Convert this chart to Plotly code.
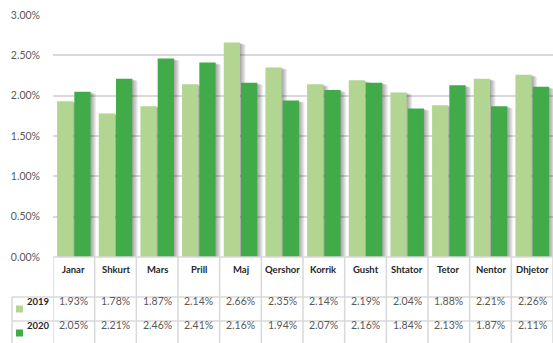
import plotly.graph_objects as go

# Monthly rates, 2019 vs 2020
months = ["Janar", "Shkurt", "Mars", "Prill", "Maj", "Qershor",
          "Korrik", "Gusht", "Shtator", "Tetor", "Nentor", "Dhjetor"]
rate_2019 = [1.93, 1.78, 1.87, 2.14, 2.66, 2.35, 2.14, 2.19, 2.04, 1.88, 2.21, 2.26]
rate_2020 = [2.05, 2.21, 2.46, 2.41, 2.16, 1.94, 2.07, 2.16, 1.84, 2.13, 1.87, 2.11]
series_names = ["2019", "2020"]
y_ticks = [0, 0.5, 1.0, 1.5, 2.0, 2.5, 3.0]

LIGHT = "#b2d692"
DARK = "#40ab48"
GRID = "#d9d9d9"
TEXT = "#595959"
FONT = "Lato"

W, H = 553, 343
L, R, T, B = 53, 0, 15, 86
n = len(months)
x_idx = list(range(n))
px_per_cat = (W - L - R) / n

bar_w = 0.39
gap = 0.012
offsets = [-bar_w - gap, gap]
colors = [LIGHT, DARK]
values = [rate_2019, rate_2020]

fig = go.Figure()

# soft drop shadows to the right of each bar
for k in range(2):
    for s in range(1, 6):
        shift = s * 1.1 / px_per_cat
        fig.add_trace(go.Bar(
            x=x_idx, y=[v - 0.005 * s for v in values[k]],
            offset=offsets[k] + shift, width=bar_w,
            marker=dict(color="rgba(0,0,0,0.075)", line=dict(width=0)),
            hoverinfo="skip", showlegend=False,
        ))

for k in range(2):
    fig.add_trace(go.Bar(
        x=x_idx, y=values[k], name=series_names[k],
        offset=offsets[k], width=bar_w,
        marker=dict(color=colors[k], line=dict(width=0)),
        showlegend=False,
    ))

fig.update_layout(
    width=W, height=H,
    margin=dict(l=L, r=R, t=T, b=B),
    paper_bgcolor="white", plot_bgcolor="white",
    barmode="overlay",
    font=dict(family=FONT, color=TEXT),
    xaxis=dict(range=[-0.5, n - 0.5], showticklabels=False, showgrid=False,
               zeroline=False, fixedrange=True),
    yaxis=dict(range=[0, 3.0], tickvals=y_ticks,
               ticktext=[f"{v:.2f}%" for v in y_ticks],
               showgrid=True, gridcolor=GRID, gridwidth=1.5,
               zeroline=False, tickfont=dict(size=10.5, color=TEXT, family=FONT),
               ticklabelstandoff=12),
)

# data table below the plot
row_h_px = [40, 24, 24]
px_to_paper = 1 / (H - T - B)
y_top = 0.0
y_hdr_bot = -row_h_px[0] * px_to_paper
y_r1_bot = y_hdr_bot - row_h_px[1] * px_to_paper
y_r2_bot = y_r1_bot - row_h_px[2] * px_to_paper
line = dict(color=GRID, width=1.5)

# horizontal rules
fig.add_shape(type="line", xref="x", yref="paper", x0=-0.5, x1=n - 0.5,
              y0=y_top, y1=y_top, line=line)
for yy in (y_hdr_bot, y_r1_bot):
    fig.add_shape(type="line", xref="paper", yref="paper",
                  x0=-(L - 12) / (W - L - R), x1=1.0, y0=yy, y1=yy, line=line)

# vertical rules
for i in range(n + 1):
    fig.add_shape(type="line", xref="x", yref="paper", x0=i - 0.5, x1=i - 0.5,
                  y0=y_top, y1=y_r2_bot, line=line)
left_edge = -(L - 12) / (W - L - R)
fig.add_shape(type="line", xref="paper", yref="paper", x0=left_edge, x1=left_edge,
              y0=y_hdr_bot, y1=y_r2_bot, line=line)

hdr_y = (y_top + y_hdr_bot) / 2
r1_y = (y_hdr_bot + y_r1_bot) / 2
r2_y = (y_r1_bot + y_r2_bot) / 2

for i, m in enumerate(months):
    fig.add_annotation(x=i, y=hdr_y, xref="x", yref="paper", text=f"<b>{m}</b>",
                       showarrow=False, font=dict(size=9.5, color="#262626", family=FONT))
    fig.add_annotation(x=i, y=r1_y, xref="x", yref="paper", text=f"{rate_2019[i]:.2f}%",
                       showarrow=False, font=dict(size=10.5, color=TEXT, family=FONT))
    fig.add_annotation(x=i, y=r2_y, xref="x", yref="paper", text=f"{rate_2020[i]:.2f}%",
                       showarrow=False, font=dict(size=10.5, color=TEXT, family=FONT))

# legend keys inside the table
for k, yy in enumerate((r1_y, r2_y)):
    sq = 7 * px_to_paper
    x0 = -(L - 16) / (W - L - R)
    fig.add_shape(type="rect", xref="paper", yref="paper",
                  x0=x0, x1=x0 + 7 / (W - L - R), y0=yy - sq / 2, y1=yy + sq / 2,
                  fillcolor=colors[k], line=dict(width=0))
    fig.add_annotation(x=-(L - 25) / (W - L - R), y=yy, xref="paper", yref="paper",
                       xanchor="left", text=f"<b>{series_names[k]}</b>", showarrow=False,
                       font=dict(size=9.5, color="#262626", family=FONT))

fig.write_html("out.html")
